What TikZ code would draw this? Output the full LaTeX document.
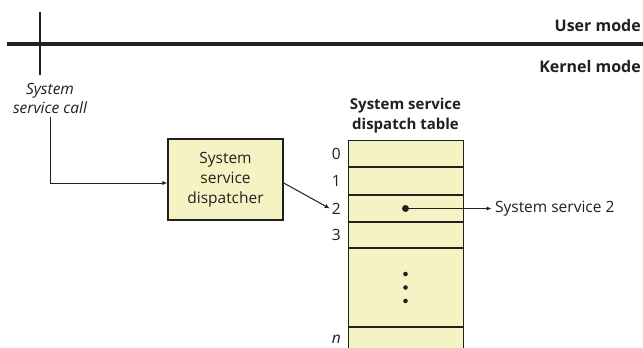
\documentclass[tikz,border=0pt]{standalone}
\usepackage{fontspec}
\setmainfont{Open Sans}
\usetikzlibrary{positioning,arrows.meta}

\definecolor{slotfill}{HTML}{F5F3C4}
\definecolor{ink}{HTML}{231F20}

\begin{document}
\begin{tikzpicture}[x=1pt,y=-1pt,
    txt/.style={font=\fontsize{15.5}{20}\selectfont,text=ink,align=center},
    modes/.style={font=\bfseries\fontsize{16}{17}\selectfont,text=ink,anchor=east,inner sep=0},
    slot/.style={fill=slotfill,minimum width=115pt,inner sep=0,outer sep=0},
    idx/.style={txt,anchor=east,inner sep=2pt},
    sep/.style={ink,line width=2.2pt},
    arr/.style={ink,line width=1pt,-{Latex[length=5pt,width=4.5pt]}}
]
\useasboundingbox[fill=white] (0,0) rectangle (643,348);

% user / kernel boundary
\draw[ink,line width=4pt] (7,44) -- (643,44);
\draw[ink,line width=2pt] (40,12) -- (40,75);
\node[modes] (user) at (641,25.5) {User mode};
\node[modes] (kernel) at (641,66.5) {Kernel mode};

\node[txt,font=\itshape\fontsize{15.5}{19}\selectfont] (call) at (50,98) {System\\service call};

% dispatcher
\node[txt,draw=ink,line width=1.5pt,fill=slotfill,minimum width=115pt,minimum height=81pt,inner sep=0]
    (disp) at (225.5,179.5) {System\\service\\dispatcher};

% dispatch table
\node[slot,minimum height=27pt,anchor=north west] (r0) at (348,140) {};
\node[slot,minimum height=28pt,below=0 of r0] (r1) {};
\node[slot,minimum height=27pt,below=0 of r1] (r2) {};
\node[slot,minimum height=26pt,below=0 of r2] (r3) {};
\node[slot,minimum height=79pt,below=0 of r3] (rdots) {};
\node[slot,minimum height=25pt,below=0 of rdots] (rn) {};

\draw[ink,line width=1pt] (rn.south west) -- (r0.north west) -- (r0.north east) -- (rn.south east);
\foreach \r in {r0,r1,r2,r3,rdots}{
  \draw[sep] (\r.south west) to (\r.south east);
}

\node[txt,font=\bfseries\fontsize{15}{20}\selectfont,above=3pt of r0.north] (title) {System service\\dispatch table};

\foreach \r/\t in {r0/0,r1/1,r2/2,r3/3}{
  \node[idx,left=5pt of \r.west] (i\t) {\t};
}
\node[idx,font=\itshape\fontsize{15.5}{20}\selectfont,left=5pt of rn.west] (in) {n};

\foreach \d in {-13.5,0,13.5}{
  \fill[ink] ([yshift=\d pt]rdots.center) circle (2.3pt);
}

\node[txt,anchor=west,right=86pt of r2.center] (svc) {System service 2};

% connectors
\draw[arr] (call.south) |- ([yshift=-3.5pt]disp.west);
\draw[arr] ([yshift=-3.5pt]disp.east) to (i2.west);
\fill[ink] (r2.center) circle (3.5pt);
\draw[arr] (r2.center) to (svc.west);

\end{tikzpicture}
\end{document}
